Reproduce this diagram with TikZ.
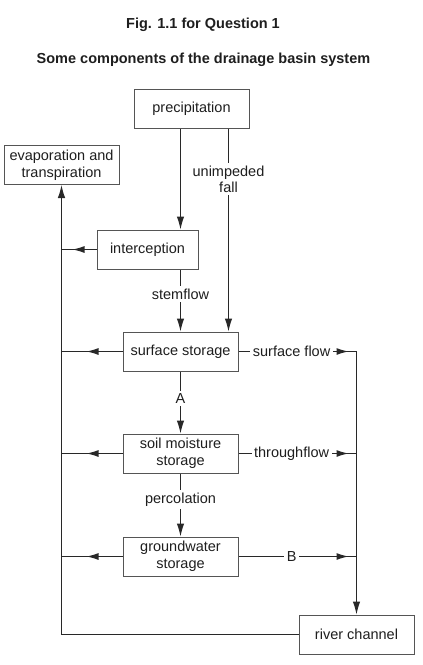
\documentclass[tikz,border=0pt]{standalone}
\usepackage{fontspec}
\setmainfont{Liberation Sans}
\usepackage{xcolor}
\usetikzlibrary{arrows.meta, positioning, decorations.markings}
\definecolor{InkGray}{RGB}{30,30,30}
\definecolor{LineGray}{RGB}{40,40,40}
\definecolor{BoxGray}{RGB}{85,85,85}

\begin{document}
\begin{tikzpicture}[x=1pt, y=-1pt,
  font=\fontsize{14.5}{16.7}\selectfont, text=InkGray,
  box/.style={draw=BoxGray, line width=1pt, minimum width=115pt,
              minimum height=39pt, inner sep=0pt, align=center},
  flow/.style={color=LineGray, line width=1.1pt},
  arr/.style={flow, -{Latex[length=13pt,width=7.5pt]}},
  midarr/.style={flow, postaction={decorate},
    decoration={markings, mark=at position #1 with
      {\arrow{Latex[length=12pt,width=7pt]}}}},
  lbl/.style={fill=white, text=InkGray, inner sep=2.5pt, align=center}]
\useasboundingbox (0,0) rectangle (423,665);

% Titles
\node[font=\fontsize{14.5}{16.7}\selectfont\bfseries] (title) at (203,25) {Fig. 1.1 for Question 1};
\node[font=\fontsize{14.5}{16.7}\selectfont\bfseries] (subtitle) at (203.5,60) {Some components of the drainage basin system};

% Stores
\node[box] (prec) at (191.5,108.5) {precipitation};
\node[box] (evap) at (61.5,165) {evaporation and\\transpiration};
\node[box, minimum width=101pt] (intc) at (147.5,249.5) {interception};
\node[box] (surf) at (180.5,351.5) {surface storage};
\node[box] (soil) at (180.5,453.5) {soil moisture\\storage};
\node[box] (ground) at (180.5,556.5) {groundwater\\storage};
\node[box] (river) at (356.5,634.5) {river channel};
\coordinate (fallx) at (228.5,0);

% Downward transfers
\draw[arr] (prec.south -| surf) -- (intc.north -| surf);
\draw[arr] (prec.south -| fallx) -- node[lbl, pos=0.25] {unimpeded\\fall} (surf.north -| fallx);
\draw[arr] (intc.south -| surf) -- node[lbl, pos=0.4] {stemflow} (surf.north);
\draw[arr] (surf.south) -- node[lbl, pos=0.44] {A} (soil.north);
\draw[arr] (soil.south) -- node[lbl, pos=0.41] {percolation} (ground.north);

% Losses to the atmosphere
\draw[midarr=24pt] (intc.west) -- (intc.west -| evap);
\foreach \b in {surf,soil,ground}{
  \draw[midarr=36pt] (\b.west) -- (\b.west -| evap);
}
\draw[arr] (river.west) -| (evap.south);

% Lateral flows to the channel
\foreach \b/\lbl in {surf/surface flow, soil/throughflow, ground/B}{
  \draw[midarr=110pt] (\b.east) -- node[lbl, pos=0.45] {\lbl} (\b.east -| river);
}
\draw[arr] (surf.east -| river) -- (river.north);

\end{tikzpicture}
\end{document}
